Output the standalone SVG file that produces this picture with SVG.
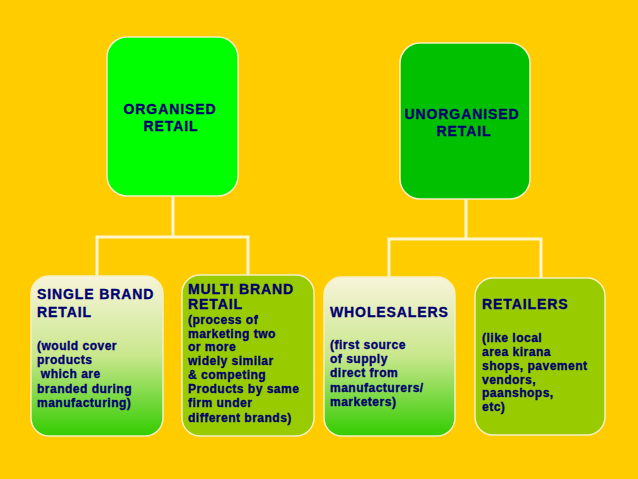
<svg xmlns="http://www.w3.org/2000/svg" width="638" height="479" viewBox="0 0 638 479">
<defs>
<linearGradient id="g" x1="0" y1="0" x2="0" y2="1">
<stop offset="0" stop-color="#f8f4da"/>
<stop offset="0.5" stop-color="#c9e78c"/>
<stop offset="1" stop-color="#33cc00"/>
</linearGradient>
<style>
.box{stroke:#f4f0c4;stroke-width:1.5}
.t{font-family:"Liberation Sans",Arial,sans-serif;font-weight:bold;fill:#000070;stroke:#000070;stroke-width:0.35}
.h{font-size:14px;letter-spacing:0.9px}
.s{font-size:12px;letter-spacing:0.5px}
.c{stroke:#fff6d0;stroke-width:3;fill:none}
</style>
</defs>
<rect width="638" height="479" fill="#ffcc00"/>
<g id="connectors">
<path class="c" d="M173 196V237M97 277V237H248V276"/>
<path class="c" d="M466 199V239M389 278V239H541V279"/>
</g>
<g id="organised">
<rect class="box" x="107" y="37" width="131" height="159" rx="20" fill="#00ff00"/>
<text class="t h" text-anchor="middle" x="170" y="114">ORGANISED</text>
<text class="t h" text-anchor="middle" x="171" y="131">RETAIL</text>
</g>
<g id="unorganised">
<rect class="box" x="400" y="43" width="130" height="156" rx="20" fill="#00c000"/>
<text class="t h" text-anchor="middle" x="462" y="119">UNORGANISED</text>
<text class="t h" text-anchor="middle" x="464" y="136">RETAIL</text>
</g>
<g id="single">
<rect class="box" x="31" y="276" width="132" height="160" rx="18" fill="url(#g)"/>
<text class="t h" x="37" y="299">SINGLE BRAND</text>
<text class="t h" x="37" y="317">RETAIL</text>
<text class="t s" x="37" y="350">(would cover</text>
<text class="t s" x="37" y="364">products</text>
<text class="t s" x="37" y="378" xml:space="preserve"> which are</text>
<text class="t s" x="37" y="393">branded during</text>
<text class="t s" x="37" y="407">manufacturing)</text>
</g>
<g id="multi">
<rect class="box" x="182" y="275" width="132" height="161" rx="18" fill="#99cc00"/>
<text class="t h" x="188" y="294">MULTI BRAND</text>
<text class="t h" x="188" y="309">RETAIL</text>
<text class="t s" x="188" y="324">(process of</text>
<text class="t s" x="188" y="338">marketing two</text>
<text class="t s" x="188" y="351">or more</text>
<text class="t s" x="188" y="365">widely similar</text>
<text class="t s" x="188" y="379">&amp; competing</text>
<text class="t s" x="188" y="393">Products by same</text>
<text class="t s" x="188" y="407">firm under</text>
<text class="t s" x="188" y="422">different brands)</text>
</g>
<g id="wholesalers">
<rect class="box" x="324" y="277" width="131" height="159" rx="18" fill="url(#g)"/>
<text class="t h" x="330" y="317">WHOLESALERS</text>
<text class="t s" x="330" y="349">(first source</text>
<text class="t s" x="330" y="363">of supply</text>
<text class="t s" x="330" y="377">direct from</text>
<text class="t s" x="330" y="392">manufacturers/</text>
<text class="t s" x="330" y="406">marketers)</text>
</g>
<g id="retailers">
<rect class="box" x="475" y="278" width="130" height="157" rx="18" fill="#99cc00"/>
<text class="t h" x="482" y="309">RETAILERS</text>
<text class="t s" x="482" y="342">(like local</text>
<text class="t s" x="482" y="356">area kirana</text>
<text class="t s" x="482" y="370">shops, pavement</text>
<text class="t s" x="482" y="384">vendors,</text>
<text class="t s" x="482" y="397">paanshops,</text>
<text class="t s" x="482" y="411">etc)</text>
</g>
</svg>
